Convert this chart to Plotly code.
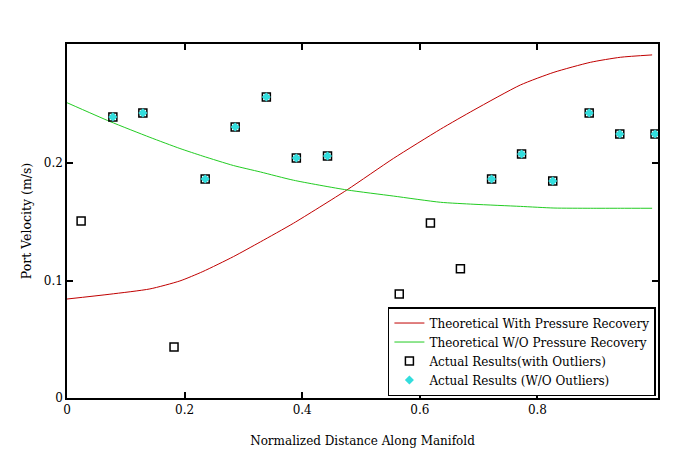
import plotly.graph_objects as go

# theoretical curves
x_theory = [0.0, 0.073, 0.141, 0.192, 0.231, 0.283, 0.329, 0.385, 0.476,
            0.555, 0.635, 0.692, 0.771, 0.828, 0.890, 0.941, 0.995]
v_with_recovery = [0.0843, 0.0884, 0.0929, 0.0997, 0.1077, 0.1204, 0.1330, 0.1488, 0.1772,
                   0.2040, 0.2289, 0.2453, 0.2666, 0.2774, 0.2859, 0.2902, 0.2922]
v_without_recovery = [0.2515, 0.2355, 0.2220, 0.2125, 0.2060, 0.1980, 0.1925, 0.1855, 0.1772,
                      0.1720, 0.1667, 0.1650, 0.1632, 0.1618, 0.1616, 0.1616, 0.1616]

# measured port velocities
x_actual = [0.024, 0.078, 0.129, 0.182, 0.235, 0.286, 0.339, 0.390, 0.443,
            0.565, 0.618, 0.669, 0.722, 0.773, 0.826, 0.888, 0.940, 1.000]
v_actual = [0.1508, 0.2394, 0.2428, 0.0434, 0.1865, 0.2308, 0.2564, 0.2044, 0.2061,
            0.0886, 0.1490, 0.1100, 0.1865, 0.2078, 0.1848, 0.2428, 0.2249, 0.2249]
outliers = [0, 3, 9, 10, 11]
x_clean = [x for i, x in enumerate(x_actual) if i not in outliers]
v_clean = [v for i, v in enumerate(v_actual) if i not in outliers]

font = "DejaVu Serif"

fig = go.Figure()
fig.add_trace(go.Scatter(
    x=x_theory, y=v_with_recovery, mode="lines",
    line=dict(color="#c00000", width=1, shape="spline", smoothing=0.6),
    name="Theoretical With Pressure Recovery"
))
fig.add_trace(go.Scatter(
    x=x_theory, y=v_without_recovery, mode="lines",
    line=dict(color="#22cc22", width=1, shape="spline", smoothing=0.6),
    name="Theoretical W/O Pressure Recovery"
))
fig.add_trace(go.Scatter(
    x=x_actual, y=v_actual, mode="markers",
    marker=dict(symbol="square-open", size=8, color="black", line=dict(width=1.5)),
    name="Actual Results(with Outliers)"
))
fig.add_trace(go.Scatter(
    x=x_clean, y=v_clean, mode="markers",
    marker=dict(symbol="diamond", size=7, color="#33dddd"),
    name="Actual Results (W/O Outliers)"
))

axis_style = dict(
    showline=True, linecolor="black", linewidth=1.5, mirror="ticks",
    ticks="inside", ticklen=6, tickcolor="black", tickwidth=1.5,
    showgrid=False, zeroline=False, automargin=False,
    tickfont=dict(family=font, size=12, color="black"),
)

fig.update_xaxes(
    range=[0, 1.005], tickvals=[0, 0.2, 0.4, 0.6, 0.8],
    ticktext=["0", "0.2", "0.4", "0.6", "0.8"],
    title=dict(text="Normalized Distance Along Manifold", standoff=20,
               font=dict(family=font, size=12, color="black")),
    **axis_style
)
fig.update_yaxes(
    range=[0, 0.3015], tickvals=[0, 0.1, 0.2],
    ticktext=["0", "0.1", "0.2"],
    title=dict(text="Port Velocity (m/s)", standoff=9,
               font=dict(family=font, size=12.5, color="black")),
    **axis_style
)

# page body has an 8px margin, so shift the figure back by that much
fig.update_layout(
    width=683, height=459,
    margin=dict(l=59, r=33, t=36, b=69),
    paper_bgcolor="white", plot_bgcolor="white",
    font=dict(family=font),
    showlegend=True,
    legend=dict(
        x=0.543, y=0.257, xanchor="left", yanchor="top",
        bgcolor="white", bordercolor="black", borderwidth=1.5,
        font=dict(family=font, size=12, color="black"),
        tracegroupgap=0, itemwidth=30,
    ),
)

fig.write_html("out.html")
